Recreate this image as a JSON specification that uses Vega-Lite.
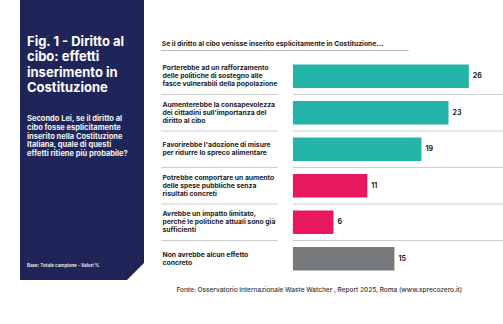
{
  "$schema": "https://vega.github.io/schema/vega-lite/v6.json",
  "padding": {"left": 20, "top": 0, "right": 0, "bottom": 0},
  "background": "white",
  "config": {"view": {"stroke": null}, "font": "Inter"},
  "spacing": 16,
  "hconcat": [
    {
      "width": 124,
      "height": 280,
      "view": {"fill": "#1f2559", "stroke": null},
      "layer": [
        {
          "data": {"values": [{"t": "Fig. 1 - Diritto al|cibo: effetti|inserimento in|Costituzione"}]},
          "mark": {"type": "text", "align": "left", "baseline": "alphabetic", "lineBreak": "|", "fontSize": 13, "fontWeight": "bold", "color": "#ffffff", "lineHeight": 15.3},
          "encoding": {"text": {"field": "t"}, "x": {"value": 7}, "y": {"value": 46}}
        },
        {
          "data": {"values": [{"t": "Secondo Lei, se il diritto al|cibo fosse esplicitamente|inserito nella Costituzione|Italiana, quale di questi|effetti ritiene più probabile?"}]},
          "mark": {"type": "text", "align": "left", "baseline": "alphabetic", "lineBreak": "|", "fontSize": 7.5, "fontWeight": "bold", "color": "#f2f2f2", "lineHeight": 8.8},
          "encoding": {"text": {"field": "t"}, "x": {"value": 7}, "y": {"value": 121}}
        },
        {
          "data": {"values": [{"t": "Base: Totale campione - Valori %"}]},
          "mark": {"type": "text", "align": "left", "baseline": "middle", "fontSize": 4.5, "fontWeight": "bold", "color": "#e6e6e6"},
          "encoding": {"text": {"field": "t"}, "x": {"value": 7}, "y": {"value": 266}}
        },
        {
          "data": {"values": [{"k": "corner"}]},
          "mark": {"type": "point", "shape": "M 1 -1 L 1 1 L -1 1 Z", "filled": true, "color": "#ffffff", "opacity": 1, "size": 289, "strokeWidth": 0},
          "encoding": {"x": {"value": 115.5}, "y": {"value": 271.5}}
        }
      ]
    },
    {
      "width": 343,
      "height": 300,
      "data": {
        "values": [
          {"effetto": "Porterebbe ad un rafforzamento|delle politiche di sostegno alle|fasce vulnerabili della popolazione", "valore": 26, "tipo": "positivo"},
          {"effetto": "Aumenterebbe la consapevolezza|dei cittadini sull'importanza del|diritto al cibo", "valore": 23, "tipo": "positivo"},
          {"effetto": "Favorirebbe l'adozione di misure|per ridurre lo spreco alimentare", "valore": 19, "tipo": "positivo"},
          {"effetto": "Potrebbe comportare un aumento|delle spese pubbliche senza|risultati concreti", "valore": 11, "tipo": "negativo"},
          {"effetto": "Avrebbe un impatto limitato,|perché le politiche attuali sono già|sufficienti", "valore": 6, "tipo": "negativo"},
          {"effetto": "Non avrebbe alcun effetto|concreto", "valore": 15, "tipo": "nessuno"}
        ]
      },
      "layer": [
        {
          "transform": [{"filter": "datum.tipo != 'nessuno'"}],
          "mark": {"type": "rule", "color": "#cccccc", "strokeWidth": 1},
          "encoding": {
            "y": {
              "field": "effetto",
              "type": "nominal",
              "sort": null,
              "bandPosition": 1,
              "scale": {"range": [58, 277], "paddingInner": 0, "paddingOuter": 0},
              "axis": {
                "title": null,
                "domain": false,
                "ticks": false,
                "tickSize": 0,
                "labelAlign": "left",
                "labelBaseline": "middle",
                "labelPadding": -1,
                "labelFontSize": 6.8,
                "labelFontWeight": "bold",
                "labelColor": "#222222",
                "labelLineHeight": 8,
                "labelLimit": 0,
                "labelExpr": "split(datum.label, '|')",
                "labelOffset": {"expr": "-(length(split(datum.label, '|')) - 1) * 4"}
              }
            },
            "x": {"datum": -19.5, "type": "quantitative", "scale": {"domain": [-19.5, 31.2], "nice": false, "zero": false}, "axis": null},
            "x2": {"datum": -2.2}
          }
        },
        {
          "transform": [{"filter": "datum.tipo != 'nessuno'"}],
          "mark": {"type": "rule", "color": "#cccccc", "strokeWidth": 1},
          "encoding": {
            "y": {"field": "effetto", "type": "nominal", "sort": null, "bandPosition": 1},
            "x": {"datum": 0, "type": "quantitative"},
            "x2": {"datum": 31.2}
          }
        },
        {
          "mark": {"type": "bar", "height": {"band": 0.65}},
          "encoding": {
            "y": {"field": "effetto", "type": "nominal", "sort": null},
            "x": {"field": "valore", "type": "quantitative"},
            "x2": {"datum": 0},
            "color": {
              "field": "tipo",
              "type": "nominal",
              "scale": {"domain": ["positivo", "negativo", "nessuno"], "range": ["#22b5a8", "#e8185c", "#76797b"]},
              "legend": null
            }
          }
        },
        {
          "mark": {"type": "text", "align": "left", "baseline": "middle", "dx": 4, "fontSize": 7, "fontWeight": "bold", "color": "#222222"},
          "encoding": {
            "y": {"field": "effetto", "type": "nominal", "sort": null},
            "x": {"field": "valore", "type": "quantitative"},
            "text": {"field": "valore", "type": "quantitative"}
          }
        },
        {
          "data": {"values": [{"t": "Se il diritto al cibo venisse inserito esplicitamente in Costituzione..."}]},
          "mark": {"type": "text", "align": "left", "baseline": "middle", "fontSize": 6.8, "fontWeight": "bold", "color": "#222222"},
          "encoding": {"x": {"datum": -19.4, "type": "quantitative"}, "y": {"value": 44}, "text": {"field": "t"}}
        },
        {
          "data": {"values": [{"t": "header"}]},
          "mark": {"type": "rule", "color": "#bbbbbb", "strokeWidth": 1},
          "encoding": {"x": {"datum": -19.5, "type": "quantitative"}, "x2": {"datum": 17.1}, "y": {"value": 50.5}}
        },
        {
          "data": {"values": [{"t": "Fonte: Osservatorio Internazionale Waste Watcher , Report 2025, Roma (www.sprecozero.it)"}]},
          "mark": {"type": "text", "align": "center", "baseline": "middle", "fontSize": 6.5, "fontWeight": 500, "color": "#333333"},
          "encoding": {"x": {"datum": 3.9, "type": "quantitative"}, "y": {"value": 290}, "text": {"field": "t"}}
        }
      ]
    }
  ]
}
